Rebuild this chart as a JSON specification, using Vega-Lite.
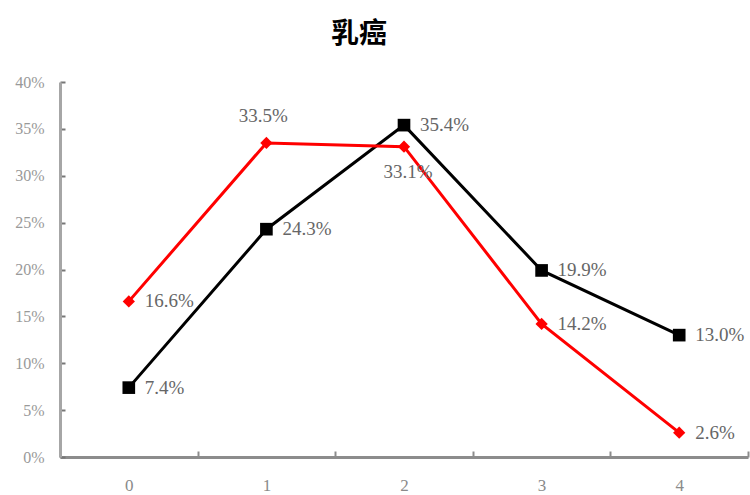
{
  "$schema": "https://vega.github.io/schema/vega-lite/v6.json",
  "width": 688,
  "height": 375,
  "autosize": "none",
  "padding": {"left": 60, "top": 82, "right": 2, "bottom": 38},
  "background": "white",
  "title": {"text": "乳癌", "font": "Noto Sans CJK TC", "fontSize": 28, "fontWeight": "bold", "color": "#000", "anchor": "middle", "dx": -45, "offset": 25},
  "config": {"view": {"stroke": null}},
  "data": {"values": [
    {"x": "0", "group": "A", "v": 0.166},
    {"x": "1", "group": "A", "v": 0.335},
    {"x": "2", "group": "A", "v": 0.331},
    {"x": "3", "group": "A", "v": 0.142},
    {"x": "4", "group": "A", "v": 0.026},
    {"x": "0", "group": "B", "v": 0.074},
    {"x": "1", "group": "B", "v": 0.243},
    {"x": "2", "group": "B", "v": 0.354},
    {"x": "3", "group": "B", "v": 0.199},
    {"x": "4", "group": "B", "v": 0.130}
  ]},
  "encoding": {
    "x": {"field": "x", "type": "ordinal", "sort": null,
      "scale": {"type": "band", "paddingInner": 0, "paddingOuter": 0},
      "axis": {"title": null, "labelAngle": 0, "tickBand": "extent", "domainColor": "#8c8c8c", "domainWidth": 3, "tickColor": "#8c8c8c", "tickWidth": 2, "tickSize": -6, "labelPadding": 26, "labelFont": "Liberation Serif", "labelFontSize": 17, "labelColor": "#8a8a8a", "grid": false}},
    "y": {"field": "v", "type": "quantitative",
      "scale": {"domain": [0, 0.4], "nice": false},
      "axis": {"title": null, "values": [0, 0.05, 0.1, 0.15, 0.2, 0.25, 0.3, 0.35, 0.4], "format": ".0%", "grid": false, "domainColor": "#a6a6a6", "domainWidth": 3, "tickColor": "#777", "tickWidth": 2, "tickSize": -5, "labelPadding": 21, "labelFont": "Liberation Serif", "labelFontSize": 16, "labelColor": "#999"}}
  },
  "layer": [
    {"transform": [{"filter": "datum.group == 'B'"}], "mark": {"type": "line", "color": "#000000", "strokeWidth": 3}},
    {"transform": [{"filter": "datum.group == 'A'"}], "mark": {"type": "line", "color": "#ff0000", "strokeWidth": 3}},
    {"transform": [{"filter": "datum.group == 'B'"}], "mark": {"type": "point", "shape": "square", "filled": true, "color": "#000000", "opacity": 1, "size": 160}},
    {"transform": [{"filter": "datum.group == 'A'"}], "mark": {"type": "point", "shape": "diamond", "filled": true, "color": "#ff0000", "opacity": 1, "size": 150}},
    {"transform": [{"filter": "!(datum.group == 'A' && (datum.x == '1' || datum.x == '2'))"}],
      "mark": {"type": "text", "align": "left", "baseline": "middle", "dx": 16, "font": "Liberation Serif", "fontSize": 19, "color": "#666"},
      "encoding": {"text": {"field": "v", "type": "quantitative", "format": ".1%"}}},
    {"transform": [{"filter": "datum.group == 'A' && datum.x == '1'"}],
      "mark": {"type": "text", "align": "center", "baseline": "middle", "dx": -3, "dy": -27, "font": "Liberation Serif", "fontSize": 19, "color": "#666"},
      "encoding": {"text": {"field": "v", "type": "quantitative", "format": ".1%"}}},
    {"transform": [{"filter": "datum.group == 'A' && datum.x == '2'"}],
      "mark": {"type": "text", "align": "center", "baseline": "middle", "dx": 4, "dy": 25, "font": "Liberation Serif", "fontSize": 19, "color": "#666"},
      "encoding": {"text": {"field": "v", "type": "quantitative", "format": ".1%"}}}
  ]
}
